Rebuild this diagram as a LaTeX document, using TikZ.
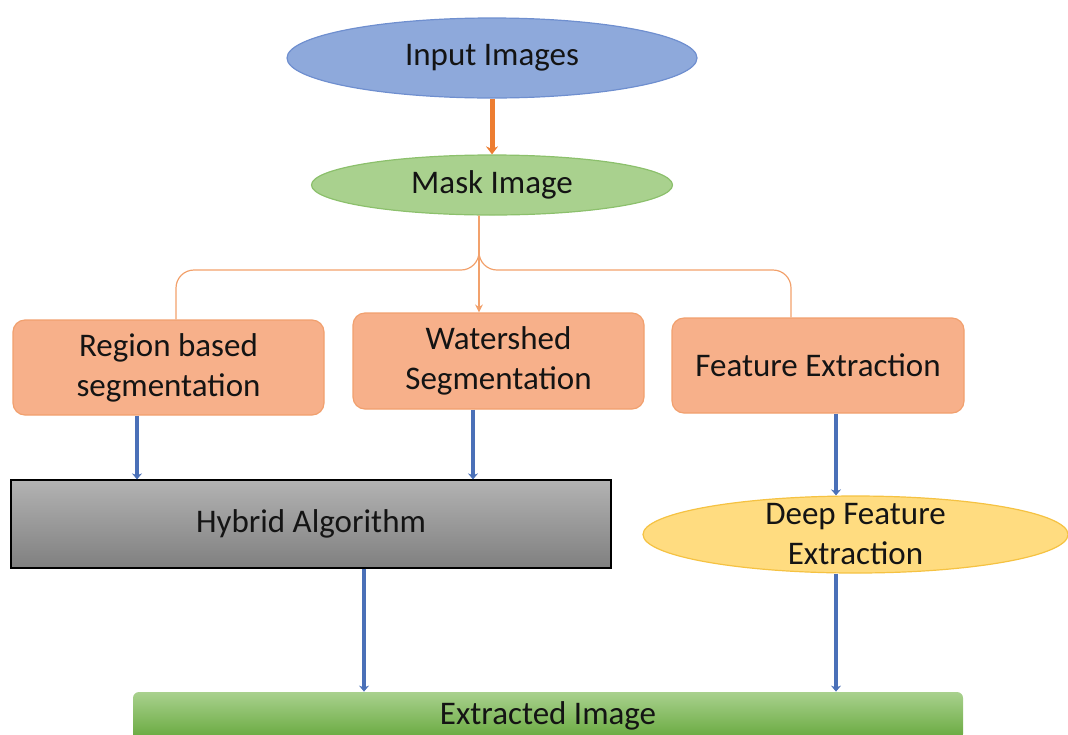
\documentclass[tikz,border=0pt]{standalone}
\usepackage{fontspec}
\setmainfont{Carlito}
\usetikzlibrary{shapes.geometric}
\usetikzlibrary{arrows.meta}

\definecolor{infill}{HTML}{8EA9DB}
\definecolor{inline}{HTML}{6F8FCF}
\definecolor{maskfill}{HTML}{A9D18E}
\definecolor{maskline}{HTML}{8CC06C}
\definecolor{segfill}{HTML}{F7B08A}
\definecolor{segline}{HTML}{F1A06E}
\definecolor{deepfill}{HTML}{FFDC80}
\definecolor{deepline}{HTML}{F5C242}
\definecolor{extfill}{HTML}{66A83C}
\definecolor{linkblue}{HTML}{4A70B8}
\definecolor{linkorange}{HTML}{ED7D31}
\definecolor{thinorange}{HTML}{F2A16C}

\begin{document}
\begin{tikzpicture}[x=0.5pt, y=-0.5pt,
    every node/.style={font=\fontsize{16.5}{20}\selectfont, text=black!92, align=center, inner sep=0pt},
    segbox/.style={draw=segline, fill=segfill, rounded corners=6pt, line width=0.6pt},
    bluelink/.style={draw=linkblue, line width=2pt, -{Stealth[length=3pt,width=5pt]}},
    thinlink/.style={draw=thinorange, line width=0.6pt},
    ]
    \useasboundingbox (0,0) rectangle (1068,734);
    \clip (0,0) rectangle (1068,734);

    \node[ellipse,
    draw = inline,
    fill = infill,
    line width = 0.6pt,
    minimum width = 205pt,
    minimum height = 40pt] (input) at (492,58) {Input Images};

    \node[ellipse,
    draw = maskline,
    fill = maskfill,
    line width = 0.6pt,
    minimum width = 180.5pt,
    minimum height = 30pt] (mask) at (492,185) {Mask Image};

    \node[segbox, minimum width = 155.5pt, minimum height = 47.5pt] (region) at (168.5,367.5) {Region based\\segmentation};
    \node[segbox, minimum width = 145.5pt, minimum height = 48pt] (watershed) at (498.5,361) {Watershed\\Segmentation};
    \node[segbox, minimum width = 146pt, minimum height = 47.5pt] (feature) at (818,365.5) {Feature Extraction};

    \node[rectangle,
    draw = black,
    line width = 0.6pt,
    top color = black!30,
    bottom color = black!50,
    minimum width = 300pt,
    minimum height = 44pt] (hybrid) at (311,524) {Hybrid Algorithm};

    \node[ellipse,
    draw = deepline,
    fill = deepfill,
    line width = 0.6pt,
    inner ysep = -6pt,
    minimum width = 212.5pt,
    minimum height = 38.5pt] (deep) at (855.5,534.5) {Deep Feature\\Extraction};

    \node[rectangle,
    rounded corners = 3pt,
    top color = maskfill,
    bottom color = extfill,
    minimum width = 415pt,
    minimum height = 24pt] (extracted) at (548,716) {Extracted Image};

    % connectors
    \coordinate (split) at (479,270);
    \coordinate (lt) at (176,270);
    \coordinate (rt) at (791,270);
    \coordinate (rx) at (137,0);
    \coordinate (wx) at (473,0);
    \coordinate (hx) at (364,0);
    \coordinate (fx) at (836,0);

    \draw[draw = linkorange, line width = 2.5pt, -{Stealth[length=4pt,width=6pt]}] (input) -- (mask);

    \draw[thinlink, rounded corners = 9pt] (mask.south -| split) -- (split) -| (region.north -| lt);
    \draw[thinlink, rounded corners = 9pt] (mask.south -| split) -- (split) -| (feature.north -| rt);
    \draw[thinlink, -{Stealth[length=4pt,width=4pt]}] (mask.south -| split) -- (watershed.north -| split);

    \draw[bluelink] (region.south -| rx) -- (hybrid.north -| rx);
    \draw[bluelink] (watershed.south -| wx) -- (hybrid.north -| wx);
    \draw[bluelink] (feature.south -| fx) -- (deep.north -| fx);
    \draw[bluelink] (hybrid.south -| hx) -- (extracted.north -| hx);
    \draw[bluelink] (deep.south -| fx) -- (extracted.north -| fx);
\end{tikzpicture}
\end{document}
